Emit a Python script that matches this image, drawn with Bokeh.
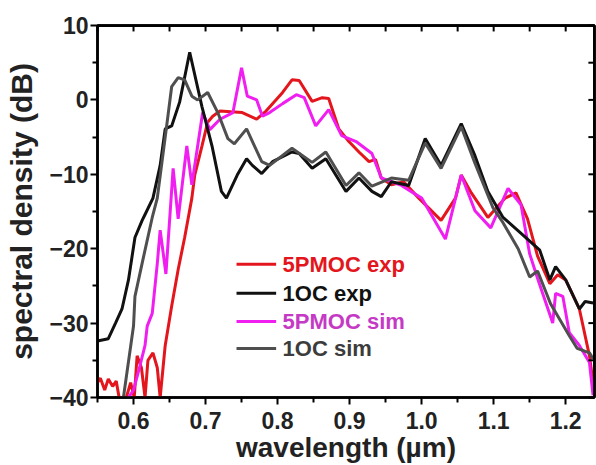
from bokeh.plotting import figure
from bokeh.models import FixedTicker, Range1d, PrintfTickFormatter, Span
from bokeh.core.properties import value
from bokeh.embed import file_html
from bokeh.resources import INLINE

# ---- data (wavelength in um, spectral density in dB) ----
red_x = [0.550, 0.554, 0.560, 0.565, 0.571, 0.576, 0.580, 0.590, 0.596, 0.601, 0.605, 0.611, 0.616, 0.620,
         0.627, 0.633, 0.637, 0.641, 0.644, 0.653, 0.662, 0.671, 0.681, 0.685, 0.695, 0.703, 0.710, 0.720,
         0.735, 0.751, 0.771, 0.784, 0.807, 0.820, 0.830, 0.848, 0.862, 0.871, 0.885, 0.899, 0.913, 0.927,
         0.936, 0.944, 0.958, 0.975, 0.996, 1.027, 1.047, 1.055, 1.069, 1.092, 1.116, 1.131, 1.147, 1.161,
         1.178, 1.189, 1.200, 1.219, 1.233, 1.238]
red_y = [-38, -37.4, -39, -37.5, -38.5, -37.8, -40, -40, -38, -40, -34.4, -36, -40, -35,
         -34, -36, -40, -36, -33, -27.7, -22.8, -18.5, -13.2, -10.1, -6.2, -3.0, -2.2, -1.5,
         -1.6, -1.7, -2.6, -1.5, 1.0, 2.7, 2.6, -0.2, 0.3, 0.2, -3.9, -5.6, -7.0, -8.3,
         -8.0, -10.5, -11.4, -11.0, -13.2, -16.2, -13.2, -10.1, -12.5, -15.8, -13.2, -12.5, -16, -21,
         -24.7, -23.5, -24.2, -28.1, -34.4, -38]

mag_x = [0.593, 0.600, 0.609, 0.616, 0.619, 0.626, 0.633, 0.637, 0.645, 0.655, 0.662, 0.674, 0.681, 0.696,
         0.706, 0.720, 0.738, 0.750, 0.758, 0.771, 0.779, 0.789, 0.807, 0.826, 0.837, 0.853, 0.871, 0.889,
         0.909, 0.931, 0.944, 0.972, 1.000, 1.033, 1.055, 1.074, 1.096, 1.120, 1.138, 1.150, 1.161, 1.182,
         1.186, 1.196, 1.205, 1.219, 1.233, 1.238]
mag_y = [-40, -39, -35.7, -33, -30.4, -28.7, -22, -17.5, -23.4, -9.2, -16, -6.2, -11.4, -1.7,
         -4.0, -2.6, -1.7, 4.3, 0.5, 0, -2.2, -1.7, -0.5, 0.7, 0.3, -3.5, -1.3, -4.8,
         -5.6, -7.2, -10.5, -11.5, -13.2, -18.7, -10.1, -14.9, -17.2, -11.9, -14.1, -20.7, -24, -30,
         -26, -26.4, -31.3, -33, -35.3, -39.7]

blk_x = [0.550, 0.565, 0.575, 0.584, 0.593, 0.602, 0.612, 0.616, 0.627, 0.637, 0.644, 0.653, 0.664, 0.678,
         0.695, 0.709, 0.722, 0.729, 0.744, 0.757, 0.765, 0.778, 0.793, 0.820, 0.830, 0.848, 0.867, 0.895,
         0.913, 0.931, 0.944, 0.958, 0.982, 1.005, 1.027, 1.055, 1.074, 1.092, 1.113, 1.140, 1.164, 1.178,
         1.186, 1.200, 1.219, 1.227, 1.238]
blk_y = [-32.4, -32.1, -30.0, -28.1, -24.2, -18.5, -16.2, -15.4, -13.2, -8.8, -3.9, -3.5, -0.3, 6.4,
         -0.9, -6.2, -12.3, -13.2, -10.1, -7.9, -8.8, -9.9, -8.3, -7.0, -7.2, -9.2, -7.9, -12.3,
         -10.5, -12.3, -13.0, -11.0, -11.5, -5.2, -8.8, -3.2, -7.5, -12.3, -15.8, -18.1, -20.2, -24.2,
         -22.4, -24.2, -28.1, -27.1, -27.3]

gry_x = [0.586, 0.600, 0.602, 0.613, 0.626, 0.633, 0.640, 0.648, 0.653, 0.662, 0.671, 0.681, 0.689, 0.703,
         0.717, 0.731, 0.740, 0.757, 0.768, 0.778, 0.789, 0.820, 0.848, 0.867, 0.895, 0.913, 0.931, 0.958,
         0.982, 1.005, 1.027, 1.055, 1.074, 1.099, 1.113, 1.134, 1.150, 1.161, 1.179, 1.205, 1.216, 1.233,
         1.238]
gry_y = [-40, -30.4, -26.4, -21.5, -15.8, -13.2, -8, -2, 1.8, 3.0, 2.7, 0.5, 0, 1.0,
         -1.7, -5.2, -5.9, -3.9, -6.2, -8.3, -8.8, -6.5, -8.4, -7.0, -11.5, -9.8, -11.6, -10.5,
         -10.8, -5.8, -9.2, -3.6, -8.5, -14.5, -16.5, -20, -23.8, -23.0, -27.4, -31.7, -33.4, -34.0,
         -34.8]

labels = ["5PMOC exp", "1OC exp", "5PMOC sim", "1OC sim"]
x_ticks = [0.6, 0.7, 0.8, 0.9, 1.0, 1.1, 1.2]
x_minor = [0.55, 0.65, 0.75, 0.85, 0.95, 1.05, 1.15]
y_ticks = [-40, -30, -20, -10, 0, 10]
y_minor = [-35, -25, -15, -5, 5]
x_lim = (0.55, 1.24)
y_lim = (-40, 10)

# layout / style constants (axis units, not data)
LEG_X0, LEG_X1, LEG_TX = 0.743, 0.798, 0.807
LEG_Y = [-22.1, -26.0, -29.8, -33.4]
TICK_LEN_Y = 0.8      # inward tick length on the top edge (dB)
TICK_LEN_X = 0.0085   # inward tick length on the right edge (um)

FONT = "Liberation Sans"
RED = "#e3161d"
MAG = "#f01ef0"
BLK = "#111111"
GRY = "#4f4f4f"
line_colors = [RED, BLK, MAG, GRY]
text_colors = [RED, BLK, "#c53ac5", "#3c3c3c"]

p = figure(width=596, height=465, output_backend="svg", toolbar_location=None,
           x_range=Range1d(*x_lim), y_range=Range1d(*y_lim),
           min_border_left=97, min_border_top=25, min_border_bottom=63, min_border_right=2)
p.xgrid.visible = False
p.ygrid.visible = False
p.outline_line_color = "black"
p.outline_line_width = 2.5

p.line(red_x, red_y, line_color=RED, line_width=3)
p.line(mag_x, mag_y, line_color=MAG, line_width=3)
p.line(blk_x, blk_y, line_color=BLK, line_width=3)
p.line(gry_x, gry_y, line_color=GRY, line_width=3)

# top and right frame edges with inward ticks (drawn on the overlay level, unclipped)
p.segment(x0=[x_lim[0], x_lim[1]], y0=[y_lim[1], y_lim[0]], x1=[x_lim[1], x_lim[1]], y1=[y_lim[1], y_lim[1]],
          line_color="black", line_width=2.5, level="overlay")
top_ticks = x_ticks + x_minor
right_ticks = y_ticks + y_minor
p.segment(x0=top_ticks, y0=[y_lim[1]] * len(top_ticks), x1=top_ticks,
          y1=[y_lim[1] - TICK_LEN_Y] * len(top_ticks), line_color="black", line_width=2, level="overlay")
p.segment(x0=[x_lim[1]] * len(right_ticks), y0=right_ticks, x1=[x_lim[1] - TICK_LEN_X] * len(right_ticks),
          y1=right_ticks, line_color="black", line_width=2, level="overlay")
p.add_layout(Span(location=y_lim[1], dimension="width", line_color="black", line_width=2.5))
p.add_layout(Span(location=x_lim[1], dimension="height", line_color="black", line_width=2.5))

# legend drawn as line samples + coloured labels
p.segment(x0=[LEG_X0] * 4, y0=LEG_Y, x1=[LEG_X1] * 4, y1=LEG_Y, line_color=line_colors, line_width=3)
p.text(x=[LEG_TX] * 4, y=LEG_Y, text=labels, text_color=text_colors, text_font=value(FONT),
       text_font_style="bold", text_font_size="22px", text_baseline="middle", text_align="left")


def style_axis(ax, size):
    ax.axis_line_width = 2.5
    ax.axis_line_color = "black"
    ax.major_tick_line_width = 2
    ax.minor_tick_line_width = 2
    ax.major_tick_line_color = "black"
    ax.minor_tick_line_color = "black"
    ax.major_label_text_font = FONT
    ax.major_label_text_font_style = "bold"
    ax.major_label_text_color = "#222222"
    ax.major_label_text_font_size = size
    ax.axis_label_text_font = FONT
    ax.axis_label_text_font_style = "bold"
    ax.axis_label_text_color = "#222222"


xb = p.xaxis[0]
xb.ticker = FixedTicker(ticks=x_ticks, minor_ticks=x_minor)
xb.formatter = PrintfTickFormatter(format="%.1f")
xb.axis_label = "wavelength (\u00b5m)"
style_axis(xb, "23px")
xb.axis_label_text_font_size = "28px"
xb.major_tick_out = 7
xb.major_tick_in = 0
xb.minor_tick_out = 5
xb.minor_tick_in = 0
xb.major_label_standoff = 7
xb.axis_label_standoff = 0

yl = p.yaxis[0]
yl.ticker = FixedTicker(ticks=y_ticks, minor_ticks=y_minor)
yl.major_label_overrides = {t: ("\u2212" + str(-t) if t < 0 else str(t)) for t in y_ticks}
yl.axis_label = "spectral density (dB)"
style_axis(yl, "23px")
yl.axis_label_text_font_size = "30px"
yl.major_tick_out = 7
yl.major_tick_in = 0
yl.minor_tick_out = 5
yl.minor_tick_in = 0
yl.major_label_standoff = 2
yl.axis_label_standoff = 8

open("out.html", "w").write(file_html(p, INLINE))
